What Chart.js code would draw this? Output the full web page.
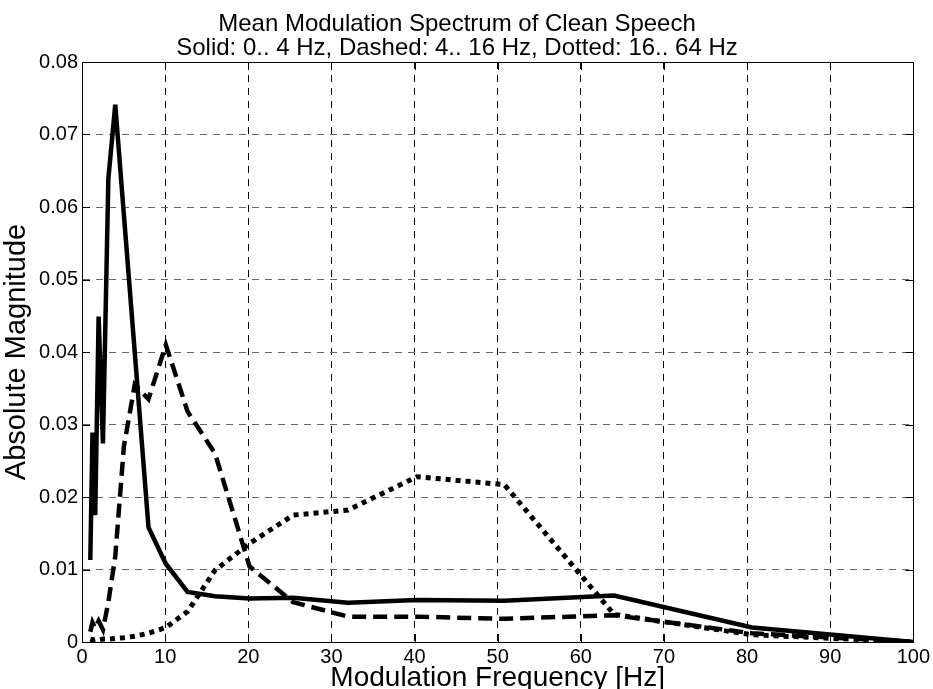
<!DOCTYPE html>
<html>
<head>
<meta charset="utf-8">
<script src="https://cdn.jsdelivr.net/npm/chart.js@4.4.1/dist/chart.umd.min.js"></script>
<style>
  html, body { margin: 0; padding: 0; background: #fff; }
  #wrap { width: 933px; height: 689px; }
</style>
</head>
<body>
<div id="wrap"><canvas id="spectrum"></canvas></div>
<script>
// third-octave band centre frequencies (Hz)
const freqs = [1, 1.26, 1.59, 2, 2.52, 3.17, 4, 5.04, 6.35, 8, 10.08, 12.7,
  16, 20.16, 25.4, 32, 40.3, 50.8, 64, 80.6, 100];

// solid: 0..4 Hz envelope
const solidVals = [0.0113, 0.0289, 0.0175, 0.0449, 0.0274, 0.0639, 0.0741,
  0.0589, 0.0399, 0.0158, 0.0108, 0.0069, 0.0063, 0.0060, 0.0061, 0.0054,
  0.0058, 0.0057, 0.0064, 0.0020, 0.0];

// dashed: 4..16 Hz envelope
const dashedVals = [0.0014, 0.0027, 0.0019, 0.0029, 0.0017, 0.0055, 0.0118,
  0.0270, 0.0355, 0.0335, 0.0410, 0.0318, 0.0260, 0.0104, 0.0055, 0.0035,
  0.0035, 0.0032, 0.0037, 0.0012, 0.0];

// dotted: 16..64 Hz envelope
const dottedVals = [0.0004, 0.0003, 0.0004, 0.0003, 0.0004, 0.0004, 0.0005,
  0.0006, 0.0008, 0.0012, 0.0020, 0.0042, 0.0099, 0.0136, 0.0175, 0.0182,
  0.0228, 0.0217, 0.0038, 0.0010, 0.0];

const xTicks = [0, 10, 20, 30, 40, 50, 60, 70, 80, 90, 100];
const yTicks = [0, 0.01, 0.02, 0.03, 0.04, 0.05, 0.06, 0.07, 0.08];

const FONT = "'Liberation Sans', Arial, Helvetica, sans-serif";

function toPoints(vals) {
  return freqs.map((f, i) => ({ x: f, y: vals[i] }));
}

function series(label, vals, dash, width) {
  return {
    label: label,
    data: toPoints(vals),
    showLine: true,
    borderColor: "#000",
    backgroundColor: "#000",
    borderWidth: width,
    borderDash: dash,
    borderCapStyle: "butt",
    borderJoinStyle: "miter",
    pointRadius: 0,
    tension: 0,
  };
}

// box around the plot area plus inward tick marks, matlab style
const boxPlugin = {
  id: "axesBox",
  afterDraw(chart) {
    const { ctx, chartArea: a, scales } = chart;
    ctx.save();
    ctx.strokeStyle = "#000";
    ctx.lineWidth = 1;
    ctx.setLineDash([]);
    ctx.strokeRect(Math.round(a.left) + 0.5, Math.round(a.top) + 0.5,
      Math.round(a.right - a.left), Math.round(a.bottom - a.top));
    ctx.beginPath();
    xTicks.forEach((v) => {
      const px = Math.round(scales.x.getPixelForValue(v)) + 0.5;
      ctx.moveTo(px, a.bottom); ctx.lineTo(px, a.bottom - 8);
      ctx.moveTo(px, a.top); ctx.lineTo(px, a.top + 8);
    });
    yTicks.forEach((v) => {
      const py = Math.round(scales.y.getPixelForValue(v)) + 0.5;
      ctx.moveTo(a.left, py); ctx.lineTo(a.left + 8, py);
      ctx.moveTo(a.right, py); ctx.lineTo(a.right - 8, py);
    });
    ctx.stroke();
    ctx.restore();
  },
};

new Chart(document.getElementById("spectrum"), {
  type: "scatter",
  data: {
    datasets: [
      series("Solid", solidVals, [], 4.5),
      series("Dashed", dashedVals, [14, 7], 4.5),
      series("Dotted", dottedVals, [5, 5], 5),
    ],
  },
  options: {
    responsive: true,
    maintainAspectRatio: false,
    animation: false,
    layout: { padding: { left: 0, right: 19, top: 0, bottom: 0 } },
    plugins: {
      legend: { display: false },
      tooltip: { enabled: false },
      title: {
        display: true,
        text: [
          "Mean Modulation Spectrum of Clean Speech",
          "Solid: 0.. 4 Hz, Dashed: 4.. 16 Hz, Dotted: 16.. 64 Hz",
        ],
        color: "#000",
        font: { family: FONT, size: 24, weight: "normal", lineHeight: 1.0 },
        padding: { top: 12, bottom: 2 },
      },
    },
    scales: {
      x: {
        type: "linear",
        min: 0,
        max: 100,
        afterBuildTicks: (s) => { s.ticks = xTicks.map((v) => ({ value: v })); },
        afterFit: (s) => { s.height = 47; },
        ticks: { color: "#000", font: { family: FONT, size: 20 }, padding: 3, maxRotation: 0 },
        grid: { color: "#000", lineWidth: 1, drawTicks: false },
        border: { display: true, color: "#000", dash: [7, 6] },
        title: {
          display: true,
          text: "Modulation Frequency [Hz]",
          color: "#000",
          font: { family: FONT, size: 28, lineHeight: 0.8 },
          padding: { top: 0, bottom: 0 },
        },
      },
      y: {
        type: "linear",
        min: 0,
        max: 0.08,
        afterBuildTicks: (s) => { s.ticks = yTicks.map((v) => ({ value: v })); },
        afterFit: (s) => { s.width = 82; },
        ticks: {
          color: "#000",
          font: { family: FONT, size: 20 },
          padding: 4,
          callback: (v) => (v === 0 ? "0" : v.toFixed(2)),
        },
        grid: { color: "#666", lineWidth: 1, drawTicks: false },
        border: { display: true, color: "#000", dash: [7, 6] },
        title: {
          display: true,
          text: "Absolute Magnitude",
          color: "#000",
          font: { family: FONT, size: 29, lineHeight: 1.2 },
          padding: { top: 0, bottom: 0 },
        },
      },
    },
  },
  plugins: [boxPlugin],
});
</script>
</body>
</html>
